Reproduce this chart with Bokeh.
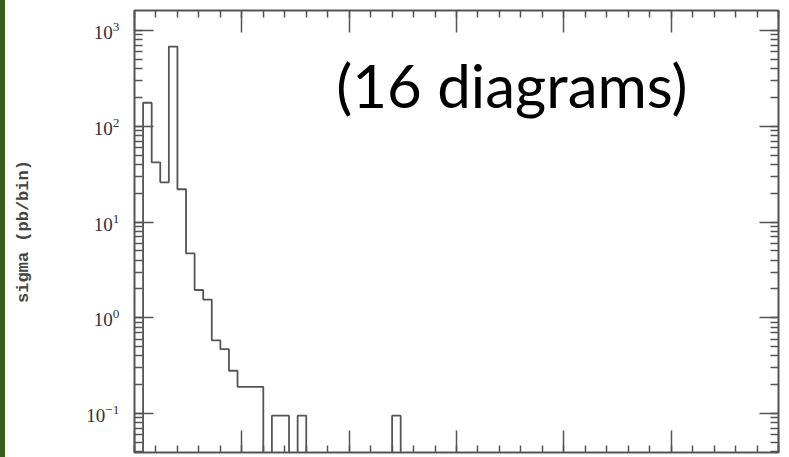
import numpy as np
from bokeh.plotting import figure
from bokeh.models import (Range1d, LogAxis, LinearAxis, LogTicker, SingleIntervalTicker,
                          Label, Div, CustomJSTickFormatter)
from bokeh.layouts import row
from bokeh.embed import file_html
from bokeh.resources import INLINE

# ---- data (histogram, bins of width 4 from 0 to 300) ----
bin_edges = list(range(0, 304, 4))
sigma_pb_per_bin = [
    0.0, 176.0, 42.0, 26.0, 680.0, 22.0, 4.7, 1.95, 1.55, 0.58,
    0.47, 0.28, 0.19, 0.19, 0.19, 0.0, 0.095, 0.095, 0.0, 0.095,
    0.0, 0.0, 0.0, 0.0, 0.0, 0.0, 0.0, 0.0, 0.0, 0.0,
    0.095, 0.0, 0.0, 0.0, 0.0, 0.0, 0.0, 0.0, 0.0, 0.0,
    0.0, 0.0, 0.0, 0.0, 0.0, 0.0, 0.0, 0.0, 0.0, 0.0,
    0.0, 0.0, 0.0, 0.0, 0.0, 0.0, 0.0, 0.0, 0.0, 0.0,
    0.0, 0.0, 0.0, 0.0, 0.0, 0.0, 0.0, 0.0, 0.0, 0.0,
    0.0, 0.0, 0.0, 0.0, 0.0,
]
y_label = "sigma (pb/bin)"
annotation = "(16 diagrams)"

# empty bins are drawn below the visible range of the log axis
floor = 1e-3
step_y = [v if v > 0 else floor for v in sigma_pb_per_bin]
step_y = step_y + [step_y[-1]]

GRAY = "#555555"

p = figure(width=784, height=457, x_range=Range1d(0, 300), y_range=Range1d(0.0392, 1618),
           y_axis_type="log", output_backend="svg", toolbar_location=None,
           min_border_left=129, min_border_right=11, min_border_top=10, min_border_bottom=5)
p.xgrid.visible = False
p.ygrid.visible = False
p.outline_line_color = GRAY
p.outline_line_width = 2
p.background_fill_color = "white"
p.border_fill_color = "white"

p.step(x=bin_edges, y=step_y, mode="after", line_color=GRAY, line_width=1.8)

bottom_axis = p.below[0]
left_axis = p.left[0]
top_axis = LinearAxis()
right_axis = LogAxis()
p.add_layout(top_axis, "above")
p.add_layout(right_axis, "right")

for ax in [bottom_axis, top_axis]:
    ax.ticker = SingleIntervalTicker(interval=50, num_minor_ticks=5)
    ax.major_tick_in = 22
    ax.minor_tick_in = 7

for ax in [left_axis, right_axis]:
    ax.ticker = LogTicker(mantissas=[1], num_minor_ticks=10)
    ax.major_tick_in = 19
    ax.minor_tick_in = 8

for ax in [bottom_axis, top_axis, left_axis, right_axis]:
    ax.axis_line_color = None
    ax.major_tick_out = 0
    ax.minor_tick_out = 0
    ax.major_tick_line_color = GRAY
    ax.minor_tick_line_color = GRAY
    ax.major_tick_line_width = 1.5
    ax.minor_tick_line_width = 1.5

for ax in [bottom_axis, top_axis, right_axis]:
    ax.formatter = CustomJSTickFormatter(code="return '';")
    ax.major_label_text_font_size = "1px"
    ax.major_label_standoff = 0

left_axis.major_label_text_font = "Liberation Serif"
left_axis.major_label_text_font_size = "19px"
left_axis.major_label_text_color = "#333333"
left_axis.major_label_standoff = 15
left_axis.axis_label = y_label
left_axis.axis_label_text_font = "Liberation Mono"
left_axis.axis_label_text_font_size = "17px"
left_axis.axis_label_text_font_style = "bold"
left_axis.axis_label_text_color = "#444444"
left_axis.axis_label_standoff = 50

p.add_layout(Label(x=94, y=272, text=annotation, text_font="Lato",
                   text_font_size="60px", text_color="black",
                   text_baseline="alphabetic", text_align="left"))

strip = Div(width=5, height=457, margin=0, styles={"background-color": "#3b5b1f"})
layout = row(strip, p, margin=0)

open("out.html", "w").write(file_html(layout, INLINE))
